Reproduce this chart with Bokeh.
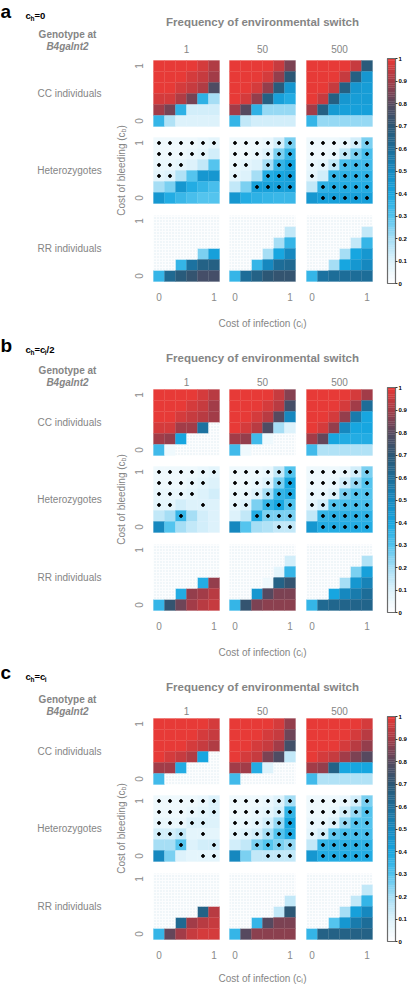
import numpy as np
from bokeh.plotting import figure
from bokeh.models import Range1d, LinearAxis, FixedTicker, ColumnDataSource, NumeralTickFormatter
from bokeh.layouts import column
from bokeh.embed import file_html
from bokeh.resources import INLINE
from bokeh.core.properties import value
from bokeh.transform import linear_cmap

N = None
# axes of every heatmap (rows listed from top, c_b = 1, to bottom, c_b = 0)
C_I = [0.0, 0.2, 0.4, 0.6, 0.8, 1.0]
C_B = [1.0, 0.8, 0.6, 0.4, 0.2, 0.0]
FREQ_LABELS = ["1", "50", "500"]
GENOTYPE_LABELS = ["CC individuals", "Heterozygotes", "RR individuals"]
CB_TICKS = [0, 0.1, 0.2, 0.3, 0.4, 0.5, 0.6, 0.7, 0.8, 0.9, 1]

# ---------------- panel a : c_h = 0 ----------------
a_cc_1 = [[1, 1, 1, 1, 0.97, 0.92],
          [1, 1, 1, 0.97, 0.95, 0.9],
          [1, 1, 0.97, 0.95, 0.92, 0.78],
          [0.97, 0.97, 0.92, 0.84, 0.36, 0.2],
          [0.9, 0.84, 0.36, 0.12, 0.12, 0.12],
          [0.35, 0.18, 0.1, 0.1, 0.1, 0.1]]
a_cc_50 = [[1, 1, 1, 1, 0.95, 0.85],
           [1, 1, 1, 0.97, 0.88, 0.7],
           [1, 1, 0.97, 0.88, 0.68, 0.45],
           [1, 0.97, 0.88, 0.66, 0.42, 0.38],
           [0.9, 0.8, 0.36, 0.22, 0.22, 0.22],
           [0.35, 0.15, 0.12, 0.12, 0.12, 0.12]]
a_cc_500 = [[1, 1, 1, 1, 0.95, 0.68],
            [1, 1, 1, 0.95, 0.66, 0.45],
            [1, 1, 0.95, 0.66, 0.45, 0.43],
            [1, 0.95, 0.66, 0.45, 0.43, 0.43],
            [0.9, 0.66, 0.44, 0.42, 0.42, 0.42],
            [0.35, 0.22, 0.22, 0.22, 0.22, 0.22]]
a_het_1 = [[0.05, 0.05, 0.05, 0.05, 0.06, 0.08],
           [0.05, 0.05, 0.05, 0.06, 0.08, 0.12],
           [0.06, 0.06, 0.08, 0.1, 0.15, 0.3],
           [0.08, 0.1, 0.18, 0.3, 0.45, 0.45],
           [0.2, 0.25, 0.45, 0.38, 0.35, 0.32],
           [0.45, 0.38, 0.34, 0.32, 0.3, 0.3]]
a_het_50 = [[0.05, 0.05, 0.05, 0.06, 0.12, 0.25],
            [0.05, 0.05, 0.06, 0.1, 0.25, 0.35],
            [0.06, 0.08, 0.1, 0.2, 0.35, 0.4],
            [0.08, 0.1, 0.2, 0.38, 0.4, 0.42],
            [0.15, 0.25, 0.42, 0.42, 0.42, 0.42],
            [0.45, 0.38, 0.36, 0.35, 0.34, 0.34]]
a_het_500 = [[0.05, 0.05, 0.05, 0.06, 0.12, 0.25],
             [0.05, 0.05, 0.06, 0.15, 0.25, 0.32],
             [0.06, 0.08, 0.15, 0.32, 0.33, 0.33],
             [0.08, 0.12, 0.35, 0.36, 0.36, 0.36],
             [0.15, 0.36, 0.38, 0.38, 0.38, 0.38],
             [0.45, 0.42, 0.42, 0.42, 0.42, 0.42]]
a_het_1_dots = ["xxxxxx", "xxxxx.", "xxx...", "xx....", "......", "......"]
a_het_50_dots = ["xxxxxx", "xxxxxx", "xx.xxx", "x..xxx", "..xxxx", "......"]
a_het_500_dots = ["xxxxxx", "xxxxxx", "xxxxxx", "x.xxxx", ".xxxxx", ".xxxxx"]
a_rr_1 = [[N, N, N, N, N, N],
          [N, N, N, N, N, N],
          [N, N, N, N, N, N],
          [N, N, N, N, 0.25, 0.42],
          [N, N, 0.35, 0.58, 0.65, 0.66],
          [0.35, 0.62, 0.68, 0.72, 0.76, 0.76]]
a_rr_50 = [[N, N, N, N, N, N],
           [N, N, N, N, N, 0.15],
           [N, N, N, N, 0.2, 0.35],
           [N, N, N, 0.2, 0.4, 0.5],
           [N, N, 0.35, 0.5, 0.6, 0.62],
           [0.35, 0.6, 0.65, 0.7, 0.72, 0.72]]
a_rr_500 = [[N, N, N, N, N, N],
            [N, N, N, N, N, 0.15],
            [N, N, N, N, 0.15, 0.35],
            [N, N, N, 0.2, 0.4, 0.45],
            [N, N, 0.2, 0.4, 0.45, 0.5],
            [0.35, 0.58, 0.6, 0.6, 0.6, 0.6]]

# ---------------- panel b : c_h = c_i / 2 ----------------
b_cc_1 = [[1, 1, 1, 1, 0.97, 0.93],
          [1, 1, 1, 0.97, 0.95, 0.9],
          [1, 1, 0.97, 0.95, 0.93, 0.9],
          [0.97, 0.97, 0.9, 0.9, 0.58, N],
          [0.9, 0.88, 0.4, N, N, N],
          [0.33, 0.05, N, N, N, N]]
b_cc_50 = [[1, 1, 1, 1, 0.95, 0.86],
           [1, 1, 1, 0.97, 0.93, 0.76],
           [1, 1, 0.97, 0.93, 0.8, 0.5],
           [1, 0.97, 0.93, 0.78, 0.2, 0.1],
           [0.9, 0.88, 0.33, 0.05, N, N],
           [0.33, 0.05, N, N, N, N]]
b_cc_500 = [[1, 1, 1, 1, 0.97, 0.9],
            [1, 1, 1, 0.97, 0.9, 0.6],
            [1, 1, 0.97, 0.88, 0.55, 0.4],
            [1, 0.97, 0.88, 0.5, 0.4, 0.4],
            [0.9, 0.82, 0.4, 0.38, 0.38, 0.38],
            [0.33, 0.18, 0.18, 0.18, 0.18, 0.18]]
b_het_1 = [[0.05, 0.05, 0.05, 0.05, 0.06, 0.08],
           [0.05, 0.05, 0.05, 0.06, 0.08, 0.1],
           [0.06, 0.06, 0.06, 0.08, 0.1, 0.12],
           [0.08, 0.08, 0.12, 0.1, 0.1, 0.1],
           [0.15, 0.2, 0.35, 0.2, 0.12, 0.1],
           [0.5, 0.3, 0.2, 0.15, 0.12, 0.1]]
b_het_50 = [[0.05, 0.05, 0.05, 0.06, 0.15, 0.3],
            [0.05, 0.05, 0.06, 0.1, 0.25, 0.4],
            [0.06, 0.06, 0.1, 0.2, 0.35, 0.38],
            [0.08, 0.1, 0.25, 0.35, 0.4, 0.3],
            [0.1, 0.15, 0.38, 0.25, 0.25, 0.25],
            [0.5, 0.3, 0.2, 0.18, 0.15, 0.15]]
b_het_500 = [[0.05, 0.05, 0.05, 0.06, 0.12, 0.25],
             [0.05, 0.05, 0.06, 0.12, 0.22, 0.3],
             [0.06, 0.06, 0.1, 0.25, 0.3, 0.3],
             [0.08, 0.12, 0.3, 0.32, 0.32, 0.32],
             [0.15, 0.35, 0.36, 0.36, 0.36, 0.36],
             [0.45, 0.38, 0.38, 0.38, 0.38, 0.38]]
b_het_1_dots = ["xxxxxx", "xxxxx.", "xxxx..", "xx..x.", "..x...", "......"]
b_het_50_dots = ["xxxxxx", "xxxxxx", "xxxxxx", "xx.xxx", "..xxxx", "....xx"]
b_het_500_dots = ["xxxxxx", "xxxxxx", "xxxxxx", "xxxxxx", ".xxxxx", ".xxxxx"]
b_rr_1 = [[N, N, N, N, N, N],
          [N, N, N, N, N, N],
          [N, N, N, N, N, N],
          [N, N, N, N, 0.38, 0.88],
          [N, N, 0.38, 0.88, 0.9, 0.93],
          [0.35, 0.72, 0.83, 0.9, 0.93, 0.95]]
b_rr_50 = [[N, N, N, N, N, N],
           [N, N, N, N, N, 0.12],
           [N, N, N, N, 0.08, 0.35],
           [N, N, N, 0.05, 0.65, 0.72],
           [N, N, 0.45, 0.8, 0.85, 0.85],
           [0.35, 0.72, 0.85, 0.87, 0.87, 0.87]]
b_rr_500 = [[N, N, N, N, N, N],
            [N, N, N, N, N, 0.18],
            [N, N, N, N, 0.25, 0.42],
            [N, N, N, 0.2, 0.45, 0.52],
            [N, N, 0.4, 0.5, 0.55, 0.6],
            [0.35, 0.62, 0.63, 0.64, 0.64, 0.64]]

# ---------------- panel c : c_h = c_i ----------------
c_cc_1 = [[1, 1, 1, 1, 1, 0.97],
          [1, 1, 1, 1, 0.97, 0.95],
          [1, 1, 1, 0.97, 0.95, 0.92],
          [1, 0.97, 0.95, 0.92, 0.4, N],
          [0.9, 0.9, 0.38, N, N, N],
          [0.33, N, N, N, N, N]]
c_cc_50 = [[1, 1, 1, 1, 0.97, 0.88],
           [1, 1, 1, 0.97, 0.95, 0.83],
           [1, 1, 0.97, 0.95, 0.9, 0.75],
           [1, 0.97, 0.95, 0.85, 0.78, 0.15],
           [0.9, 0.9, 0.38, 0.1, N, N],
           [0.33, N, N, N, N, N]]
c_cc_500 = [[1, 1, 1, 1, 1, 0.97],
            [1, 1, 1, 1, 0.97, 0.93],
            [1, 1, 1, 0.97, 0.93, 0.88],
            [1, 0.97, 0.95, 0.9, 0.85, 0.8],
            [0.9, 0.88, 0.65, 0.4, 0.4, 0.4],
            [0.33, 0.18, 0.18, 0.18, 0.18, 0.18]]
c_het_1 = [[0.05, 0.05, 0.05, 0.05, 0.06, 0.1],
           [0.05, 0.05, 0.05, 0.06, 0.08, 0.1],
           [0.06, 0.06, 0.06, 0.1, 0.1, 0.1],
           [0.12, 0.12, 0.15, 0.08, 0.08, 0.08],
           [0.2, 0.2, 0.3, 0.1, 0.12, 0.12],
           [0.5, 0.25, 0.1, 0.08, 0.08, 0.08]]
c_het_50 = [[0.05, 0.05, 0.05, 0.06, 0.1, 0.2],
            [0.05, 0.05, 0.06, 0.08, 0.12, 0.35],
            [0.06, 0.06, 0.08, 0.12, 0.22, 0.4],
            [0.08, 0.1, 0.12, 0.2, 0.3, 0.38],
            [0.12, 0.15, 0.25, 0.3, 0.25, 0.22],
            [0.5, 0.25, 0.15, 0.15, 0.15, 0.15]]
c_het_500 = [[0.05, 0.05, 0.05, 0.06, 0.12, 0.25],
             [0.05, 0.05, 0.06, 0.12, 0.22, 0.3],
             [0.06, 0.06, 0.1, 0.22, 0.3, 0.3],
             [0.08, 0.12, 0.28, 0.32, 0.32, 0.32],
             [0.15, 0.35, 0.36, 0.36, 0.36, 0.36],
             [0.45, 0.38, 0.38, 0.38, 0.38, 0.38]]
c_het_1_dots = ["xxxxxx", "xxxxxx", "xxxxx.", "xxx.x.", "..x..x", "....xx"]
c_het_50_dots = ["xxxxxx", "xxxxxx", "xxxxxx", "xxxxxx", "..xxxx", "...xxx"]
c_het_500_dots = ["xxxxxx", "xxxxxx", "xxxxxx", "xxxxxx", ".xxxxx", ".xxxxx"]
c_rr_1 = [[N, N, N, N, N, N],
          [N, N, N, N, N, N],
          [N, N, N, N, N, N],
          [N, N, N, N, 0.65, 0.93],
          [N, N, 0.62, 0.9, 0.93, 0.95],
          [0.35, 0.82, 0.9, 0.95, 0.97, 0.97]]
c_rr_50 = [[N, N, N, N, N, N],
           [N, N, N, N, N, N],
           [N, N, N, N, N, 0.15],
           [N, N, N, N, 0.15, 0.7],
           [N, N, 0.35, 0.8, 0.85, 0.85],
           [0.35, 0.8, 0.87, 0.87, 0.87, 0.87]]
c_rr_500 = [[N, N, N, N, N, N],
            [N, N, N, N, N, 0.15],
            [N, N, N, N, 0.15, 0.35],
            [N, N, N, 0.2, 0.42, 0.5],
            [N, N, 0.3, 0.45, 0.55, 0.6],
            [0.35, 0.65, 0.65, 0.65, 0.65, 0.65]]

# ---------------- styling ----------------
CMAP_STOPS = [0.0, 0.1, 0.2, 0.3, 0.4, 0.5, 0.6, 0.7, 0.8, 0.9, 1.0]
CMAP_COLORS = ["#ffffff", "#dcf2fb", "#a6def5", "#52c3ee", "#17a6e0", "#1689c0",
               "#1d6d98", "#2b5775", "#56495f", "#a13c48", "#e73a37"]


def build_palette(n=256):
    rgb = np.array([[int(c[i:i + 2], 16) for i in (1, 3, 5)] for c in CMAP_COLORS], float)
    out = []
    for t in np.linspace(0, 1, n):
        r, g, b = (np.interp(t, CMAP_STOPS, rgb[:, k]) for k in range(3))
        out.append("#%02x%02x%02x" % (int(round(r)), int(round(g)), int(round(b))))
    return out


PALETTE = build_palette()
FONT = value("Liberation Sans")
GREY = "#858585"
W = 408
COL_LEFTS = [153, 229, 306]
ROW_OFFS = [0, 77, 155]
HM = 66
S = HM / 1.2
CB_L, CB_R = 387, 395
LABEL_X = 69


def make_panel(letter, sub_parts, cc, het, rr, dots, h, T, offs):
    p = figure(width=W, height=h, x_range=Range1d(0, W), y_range=Range1d(h, 0),
               x_axis_type=None, y_axis_type=None, toolbar_location=None,
               output_backend="svg", min_border=0, outline_line_color=None)
    row_tops = [T + o for o in ROW_OFFS]
    for j, L in enumerate(COL_LEFTS):
        p.extra_x_ranges["c%d" % j] = Range1d(-0.1 - L / S, -0.1 + (W - L) / S)
    for k, top in enumerate(row_tops):
        bot = top + HM
        p.extra_y_ranges["r%d" % k] = Range1d(-0.1 + (bot - h) / S, -0.1 + bot / S)

    cmap = linear_cmap("v", PALETTE, 0, 1)
    mats = [cc, het, rr]
    for k in range(3):
        for j in range(3):
            m = mats[k][j]
            xs, ys, vs, nx, ny = [], [], [], [], []
            for r, row in enumerate(m):
                for c, v in enumerate(row):
                    if v is None:
                        nx.append(C_I[c]); ny.append(C_B[r])
                    else:
                        xs.append(C_I[c]); ys.append(C_B[r]); vs.append(v)
            src = ColumnDataSource(dict(x=xs, y=ys, v=vs))
            p.rect("x", "y", 0.2, 0.2, source=src, fill_color=cmap, line_color=cmap,
                   line_width=0.3, x_range_name="c%d" % j, y_range_name="r%d" % k)
            if nx:
                p.rect(nx, ny, 0.2, 0.2, fill_color="#fcfdfe", line_color=None,
                       hatch_pattern="dot", hatch_color="#d8e7f0", hatch_scale=3,
                       hatch_alpha=0.8, x_range_name="c%d" % j, y_range_name="r%d" % k)
            if k == 1:
                dx, dy = [], []
                for r, srow in enumerate(dots[j]):
                    for c, ch in enumerate(srow):
                        if ch == "x":
                            dx.append(C_I[c]); dy.append(C_B[r])
                p.scatter(dx, dy, size=2.8, color="black",
                          x_range_name="c%d" % j, y_range_name="r%d" % k)

    # axes
    for j in range(3):
        ax = LinearAxis(x_range_name="c%d" % j, fixed_location=row_tops[2] + HM,
                        ticker=FixedTicker(ticks=[0, 1]), formatter=NumeralTickFormatter(format="0"),
                        axis_line_color=None, major_tick_line_color=None, minor_tick_line_color=None,
                        major_tick_out=0, minor_tick_out=0, major_label_standoff=offs["tick"],
                        major_label_text_font_size="10px", major_label_text_color="#8a8a8a",
                        major_label_text_font="Liberation Sans")
        p.add_layout(ax, "below")
    for k in range(3):
        ay = LinearAxis(y_range_name="r%d" % k, fixed_location=COL_LEFTS[0],
                        ticker=FixedTicker(ticks=[0, 1]), formatter=NumeralTickFormatter(format="0"),
                        axis_line_color=None, major_tick_line_color=None, minor_tick_line_color=None,
                        major_tick_out=0, minor_tick_out=0, major_label_standoff=11,
                        major_label_orientation="vertical",
                        major_label_text_font_size="10px", major_label_text_color="#8a8a8a",
                        major_label_text_font="Liberation Sans")
        p.add_layout(ay, "left")

    # colour bar
    cb_top, cb_bot = T - 2, T + 223
    ext = cb_bot - cb_top
    p.extra_y_ranges["cb"] = Range1d((cb_bot - h) / ext, cb_bot / ext)
    lv = np.linspace(0, 1, 101)
    cbs = ColumnDataSource(dict(b=lv[:-1], t=lv[1:], v=(lv[:-1] + lv[1:]) / 2))
    p.quad(left=CB_L, right=CB_R, bottom="b", top="t", source=cbs, fill_color=cmap,
           line_color=cmap, line_width=0.3, y_range_name="cb")
    p.quad(left=[CB_L], right=[CB_R], bottom=[0], top=[1], fill_color=None,
           line_color="#6b6b6b", line_width=1.2, y_range_name="cb")
    acb = LinearAxis(y_range_name="cb", fixed_location=CB_R, ticker=FixedTicker(ticks=CB_TICKS),
                     formatter=NumeralTickFormatter(format="0.[0]"), axis_line_color=None,
                     major_tick_out=2, major_tick_in=0, major_tick_line_color="#333333",
                     minor_tick_line_color=None, major_label_standoff=1,
                     major_label_text_font_size="6px", major_label_text_font_style="bold",
                     major_label_text_color="black", major_label_text_font="Liberation Sans")
    p.add_layout(acb, "right")

    col_c = [L + HM / 2 for L in COL_LEFTS]
    row_c = [t + HM / 2 for t in row_tops]

    def txt(x, y, s, size, **kw):
        p.text(x=[x], y=[y], text=[s], text_font=FONT, text_font_size="%.1fpx" % size, **kw)

    # panel letter and condition
    txt(0, T + offs["letter"], letter, 19, text_font_style="bold", text_color="black",
        text_align="left", text_baseline="middle")
    x0, base = 25, T + offs["letter"] + 4
    for dx, s, sub in sub_parts:
        txt(x0 + dx, base + (2.5 if sub else 0), s, 6.5 if sub else 9.5,
            text_font_style="bold", text_color="black", text_align="left",
            text_baseline="alphabetic")

    txt(col_c[1], T + offs["freq"], "Frequency of environmental switch", 11.5,
        text_font_style="bold", text_color=GREY, text_align="center", text_baseline="middle")
    txt(LABEL_X - 2, T + offs["geno"], "Genotype at", 10, text_font_style="bold",
        text_color=GREY, text_align="center", text_baseline="middle")
    txt(LABEL_X - 2, T + offs["geno"] + 12, "B4galnt2", 10, text_font_style="bold italic",
        text_color=GREY, text_align="center", text_baseline="middle")
    for j in range(3):
        txt(col_c[j], T + offs["nums"], FREQ_LABELS[j], 10, text_color=GREY,
            text_align="center", text_baseline="middle")
    for k in range(3):
        txt(LABEL_X, row_c[k], GENOTYPE_LABELS[k], 10, text_color=GREY, text_align="center",
            text_baseline="middle")

    # y title, rotated: "Cost of bleeding (c_b)"
    main_w, sub_w, par_w = 83.4, 3.9, 3.3
    tot = main_w + sub_w + par_w
    yb = row_c[1] + tot / 2
    xb = 120.5
    txt(xb, yb, "Cost of bleeding (c", 10, text_color=GREY, text_align="left",
        text_baseline="alphabetic", angle=np.pi / 2)
    txt(xb + 2.5, yb - main_w, "b", 7, text_color=GREY, text_align="left",
        text_baseline="alphabetic", angle=np.pi / 2)
    txt(xb, yb - main_w - sub_w, ")", 10, text_color=GREY, text_align="left",
        text_baseline="alphabetic", angle=np.pi / 2)

    # x title: "Cost of infection (c_i)"
    main_w, sub_w = 82.8, 1.8
    tot = main_w + sub_w + par_w
    xs0 = col_c[1] - tot / 2
    yt = T + offs["title"] + 3.5
    txt(xs0, yt, "Cost of infection (c", 10, text_color=GREY, text_align="left",
        text_baseline="alphabetic")
    txt(xs0 + main_w, yt + 2, "i", 7, text_color=GREY, text_align="left",
        text_baseline="alphabetic")
    txt(xs0 + main_w + sub_w, yt, ")", 10, text_color=GREY, text_align="left",
        text_baseline="alphabetic")
    return p


SUB_A = [(0, "c", False), (5.0, "h", True), (9.0, "=0", False)]
SUB_B = [(0, "c", False), (5.0, "h", True), (9.0, "=c", False), (19.3, "i", True), (21.1, "/2", False)]
SUB_C = [(0, "c", False), (5.0, "h", True), (9.0, "=c", False), (19.3, "i", True)]

OFFS_A = dict(letter=-49, freq=-39, geno=-26, nums=-12, tick=11, title=259)
OFFS_B = dict(letter=-44, freq=-32, geno=-19, nums=-8, tick=11, title=259)
OFFS_C = dict(letter=-46, freq=-32, geno=-19, nums=-8, tick=11, title=256)

pa = make_panel("a", SUB_A, [a_cc_1, a_cc_50, a_cc_500], [a_het_1, a_het_50, a_het_500],
                [a_rr_1, a_rr_50, a_rr_500], [a_het_1_dots, a_het_50_dots, a_het_500_dots],
                h=329, T=60, offs=OFFS_A)
pb = make_panel("b", SUB_B, [b_cc_1, b_cc_50, b_cc_500], [b_het_1, b_het_50, b_het_500],
                [b_rr_1, b_rr_50, b_rr_500], [b_het_1_dots, b_het_50_dots, b_het_500_dots],
                h=329, T=60, offs=OFFS_B)
pc = make_panel("c", SUB_C, [c_cc_1, c_cc_50, c_cc_500], [c_het_1, c_het_50, c_het_500],
                [c_rr_1, c_rr_50, c_rr_500], [c_het_1_dots, c_het_50_dots, c_het_500_dots],
                h=327, T=60, offs=OFFS_C)

layout = column(pa, pb, pc, spacing=0)
open("out.html", "w").write(file_html(layout, INLINE))
